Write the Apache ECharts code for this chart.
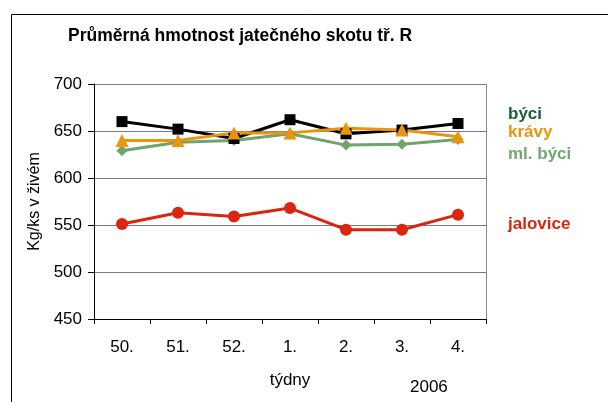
<!DOCTYPE html>
<html>
<head>
<meta charset="utf-8">
<script src="https://cdn.jsdelivr.net/npm/echarts@6/dist/echarts.min.js"></script>
<style>
  html, body { margin: 0; padding: 0; background: #fff; }
  #chart { width: 608px; height: 402px; }
</style>
</head>
<body>
<div id="chart"></div>
<script>
// týdny (week numbers), last four are 2006
var weeks = ['50.', '51.', '52.', '1.', '2.', '3.', '4.'];

var byci = [660, 652, 642, 662, 647, 651, 658];
var kravy = [640, 640, 648, 648, 653, 651, 644];
var mlByci = [629, 638, 640, 647, 635, 636, 641];
var jalovice = [551, 563, 559, 568, 545, 545, 561];

var font = 'Liberation Sans, Arial, sans-serif';

var chart = echarts.init(document.getElementById('chart'));

function line(name, data, color, symbol, size) {
  return {
    name: name,
    type: 'line',
    data: data,
    symbol: symbol,
    symbolSize: size,
    showSymbol: true,
    lineStyle: { color: color, width: 3 },
    itemStyle: { color: color, borderWidth: 0 },
    animation: false
  };
}

var option = {
  backgroundColor: '#fff',
  grid: { left: 94, right: 122, top: 84, bottom: 83 },
  xAxis: {
    type: 'category',
    data: weeks,
    boundaryGap: true,
    name: 'týdny',
    nameLocation: 'middle',
    nameGap: 53,
    nameTextStyle: { fontFamily: font, fontSize: 17, color: '#000' },
    axisLine: { lineStyle: { color: '#000', width: 1 } },
    axisTick: { show: true, length: 5, alignWithLabel: false, lineStyle: { color: '#000' } },
    axisLabel: { fontFamily: font, fontSize: 17, color: '#000', margin: 20 },
    splitLine: { show: false }
  },
  yAxis: {
    type: 'value',
    min: 450,
    max: 700,
    interval: 50,
    name: 'Kg/ks v živém',
    nameLocation: 'middle',
    nameGap: 51,
    nameRotate: 90,
    nameTextStyle: { fontFamily: font, fontSize: 16, color: '#000' },
    axisLine: { show: true, lineStyle: { color: '#000', width: 1 } },
    axisTick: { show: true, length: 6, lineStyle: { color: '#000' } },
    axisLabel: { fontFamily: font, fontSize: 17, color: '#000', margin: 12 },
    splitLine: { show: true, lineStyle: { color: '#7a7a7a', width: 1 } }
  },
  series: [
    line('jalovice', jalovice, '#d9260f', 'circle', 12),
    line('ml. býci', mlByci, '#6fa46f', 'diamond', 11),
    line('býci', byci, '#000000', 'rect', 11),
    line('krávy', kravy, '#e9950e', 'triangle', 13)
  ],
  graphic: [
    { type: 'rect', left: 9, top: 12, shape: { width: 640, height: 420 },
      style: { fill: 'none', stroke: '#000', lineWidth: 1 }, silent: true },
    { type: 'line', shape: { x1: 486.5, y1: 84, x2: 486.5, y2: 319 },
      style: { stroke: '#8a8a8a', lineWidth: 1 } },
    { type: 'text', left: 68, top: 27,
      style: { text: 'Průměrná hmotnost jatečného skotu tř. R', font: 'bold 17.5px ' + font, fill: '#000' } },
    { type: 'text', left: 508, top: 106,
      style: { text: 'býci', font: 'bold 17px ' + font, fill: '#1d5a3b' } },
    { type: 'text', left: 508, top: 124,
      style: { text: 'krávy', font: 'bold 17px ' + font, fill: '#e9950e' } },
    { type: 'text', left: 508, top: 146,
      style: { text: 'ml. býci', font: 'bold 17px ' + font, fill: '#72a672' } },
    { type: 'text', left: 508, top: 216,
      style: { text: 'jalovice', font: 'bold 17px ' + font, fill: '#d9260f' } },
    { type: 'text', left: 410, top: 379,
      style: { text: '2006', font: '17px ' + font, fill: '#000' } }
  ]
};

chart.setOption(option);
window.addEventListener('resize', function () { chart.resize(); });
</script>
</body>
</html>
